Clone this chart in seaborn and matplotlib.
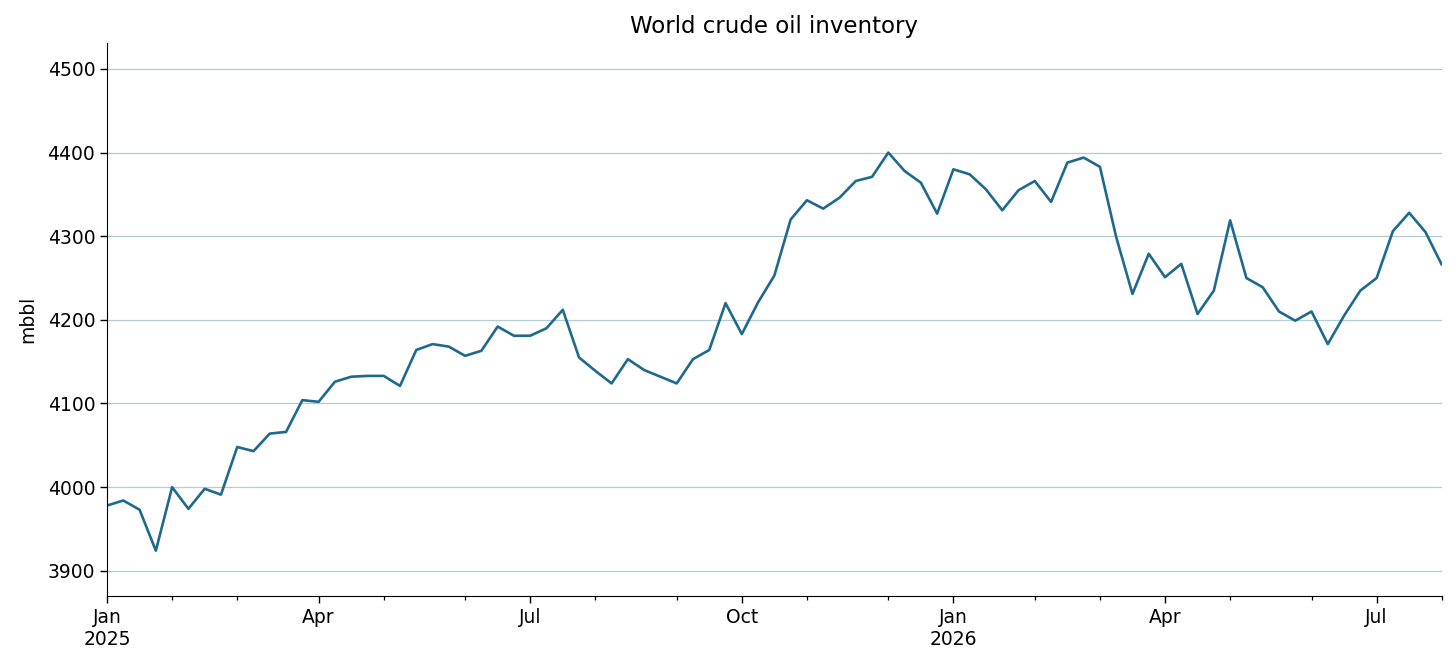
import numpy as np
import pandas as pd
import seaborn as sns

import matplotlib
matplotlib.use('Agg')
import matplotlib.pyplot as plt
import matplotlib.dates as mdates
from matplotlib.ticker import FixedLocator

# weekly inventory readings (mbbl)
start_date = '2025-01-01'
inventory = [
    3978, 3984, 3973, 3924, 4000, 3974, 3998, 3991, 4048, 4043,
    4064, 4066, 4104, 4102, 4126, 4132, 4133, 4133, 4121, 4164,
    4171, 4168, 4157, 4163, 4192, 4181, 4181, 4190, 4212, 4155,
    4139, 4124, 4153, 4140, 4132, 4124, 4153, 4164, 4220, 4183,
    4221, 4253, 4320, 4343, 4333, 4346, 4366, 4371, 4400, 4378,
    4364, 4327, 4380, 4374, 4356, 4331, 4355, 4366, 4341, 4388,
    4394, 4383, 4299, 4231, 4279, 4251, 4267, 4207, 4235, 4319,
    4250, 4239, 4210, 4199, 4210, 4171, 4205, 4235, 4250, 4306,
    4328, 4305, 4266,
]
y_ticks = [3900, 4000, 4100, 4200, 4300, 4400, 4500]

dates = pd.date_range(start_date, periods=len(inventory), freq='7D')
df = pd.DataFrame({'date': dates, 'mbbl': inventory})

sns.set_style('ticks', {'text.color': 'black', 'axes.labelcolor': 'black',
                        'xtick.color': 'black', 'ytick.color': 'black',
                        'axes.edgecolor': 'black'})
plt.rcParams['font.family'] = ['DejaVu Sans']

fig = plt.figure(figsize=(14.56, 6.68), dpi=100)
ax = fig.add_axes([0.0735, 0.108, 0.9167, 0.8276])

sns.lineplot(data=df, x='date', y='mbbl', ax=ax, color='#1d6a8e', linewidth=1.9)

# month ticks snapped to the nearest weekly point (like a period axis)
month_starts = pd.date_range('2025-01-01', '2026-08-01', freq='MS')
idx = dates.get_indexer(month_starts, method='nearest')
tick_dates = dates[idx]
major = [d for d, m in zip(tick_dates, month_starts) if m.month in (1, 4, 7, 10)]
minor = [d for d, m in zip(tick_dates, month_starts) if m.month not in (1, 4, 7, 10)]
major_lbl = [m for m in month_starts if m.month in (1, 4, 7, 10)]

ax.xaxis.set_major_locator(FixedLocator(mdates.date2num(major)))
ax.xaxis.set_minor_locator(FixedLocator(mdates.date2num(minor)))
labels = [m.strftime('%b') + ('\n' + str(m.year) if m.month == 1 else '') for m in major_lbl]
ax.set_xticklabels(labels)

ax.set_xlim(dates[0], dates[-1])
ax.set_ylim(3870, 4531)
ax.set_yticks(y_ticks)

ax.tick_params(axis='both', which='major', labelsize=13.5, length=5, width=1)
ax.tick_params(axis='x', which='minor', length=3, width=0.9)

ax.grid(axis='y', color='#b3cbd6', linewidth=0.9)
ax.set_axisbelow(True)

ax.set_xlabel('')
ax.set_ylabel('mbbl', fontsize=13.5, labelpad=7)
ax.set_title('World crude oil inventory', fontsize=16.5, pad=7)
sns.despine(ax=ax)

plt.savefig('out.png', dpi=100)
plt.close()
